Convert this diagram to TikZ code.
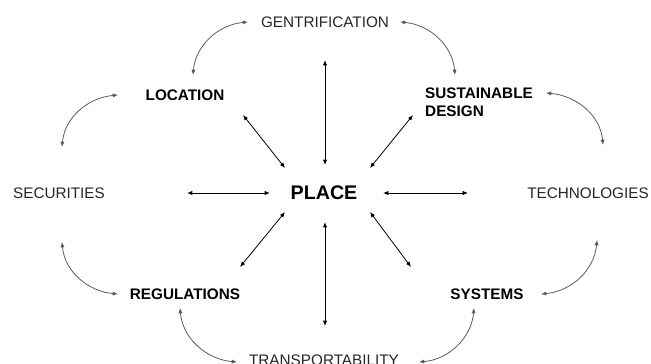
\documentclass[tikz,border=0pt]{standalone}
\usepackage{fontspec}
\setmainfont{Liberation Sans}
\usetikzlibrary{arrows.meta}

\tikzset{
	term/.style={inner sep=0pt, text=black!85, font=\fontsize{8.7}{10.2}\selectfont},
	key term/.style={term, text=black, font=\bfseries\fontsize{8.7}{10.2}\selectfont},
	hub/.style={term, text=black, font=\bfseries\fontsize{11.2}{13}\selectfont},
	spoke/.style={{Latex[length=3pt,width=2.4pt]}-{Latex[length=3pt,width=2.4pt]}, line width=0.45pt},
	rim/.style={spoke, draw=black!65}
}

\begin{document}
\begin{tikzpicture}[x=0.02cm, y=0.02cm]
		\useasboundingbox (0, 0) rectangle (651, 363);
		
		\node[hub] (place) at (324, 170) {PLACE};
		\node[term] (gent) at (325, 341) {GENTRIFICATION};
		\node[key term] (loc) at (185, 268) {LOCATION};
		\node[key term, align=left] (sust) at (479, 261) {SUSTAINABLE\\DESIGN};
		\node[term] (sec) at (59, 170) {SECURITIES};
		\node[term] (tech) at (588, 170) {TECHNOLOGIES};
		\node[key term] (reg) at (185, 69) {REGULATIONS};
		\node[key term] (sys) at (487, 69) {SYSTEMS};
		\node[term] (trans) at (324, 3) {TRANSPORTABILITY};
		
		% spokes out of the centre
		\draw[spoke] ([shift={(1, 28)}]place.center) -- ([shift={(0, -38)}]gent.center);
		\draw[spoke] ([shift={(1, -29)}]place.center) -- ([shift={(1, 34)}]trans.center);
		\draw[spoke] ([shift={(-54, 0)}]place.center) -- ([shift={(128, 0)}]sec.center);
		\draw[spoke] ([shift={(59, 0)}]place.center) -- ([shift={(-120, 0)}]tech.center);
		\draw[spoke] ([shift={(-39, 25)}]place.center) -- ([shift={(58, -20)}]loc.center);
		\draw[spoke] ([shift={(46, 25)}]place.center) -- ([shift={(-66, -13)}]sust.center);
		\draw[spoke] ([shift={(-39, -19)}]place.center) -- ([shift={(55, 27)}]reg.center);
		\draw[spoke] ([shift={(46, -19)}]place.center) -- ([shift={(-76, 27)}]sys.center);
		
		% ring round the outside
		\draw[rim] ([shift={(-77, 0)}]gent.center) to[out=185, in=85] ([shift={(8, 20)}]loc.center);
		\draw[rim] ([shift={(75, 0)}]gent.center) to[out=-5, in=95] ([shift={(-24, 27)}]sust.center);
		\draw[rim] ([shift={(67, 9)}]sust.center) to[out=-5, in=95] ([shift={(15, 48)}]tech.center);
		\draw[rim] ([shift={(-67, 0)}]loc.center) to[out=185, in=85] ([shift={(3, 46)}]sec.center);
		\draw[rim] ([shift={(3, -49)}]sec.center) to[out=-85, in=175] ([shift={(-67, 0)}]reg.center);
		\draw[rim] ([shift={(-5, -14)}]reg.center) to[out=-85, in=175] ([shift={(-87, -2)}]trans.center);
		\draw[rim] ([shift={(-13, -14)}]sys.center) to[out=-95, in=5] ([shift={(95, -2)}]trans.center);
		\draw[rim] ([shift={(9, -47)}]tech.center) to[out=-95, in=5] ([shift={(54, 0)}]sys.center);
	\end{tikzpicture}
\end{document}
